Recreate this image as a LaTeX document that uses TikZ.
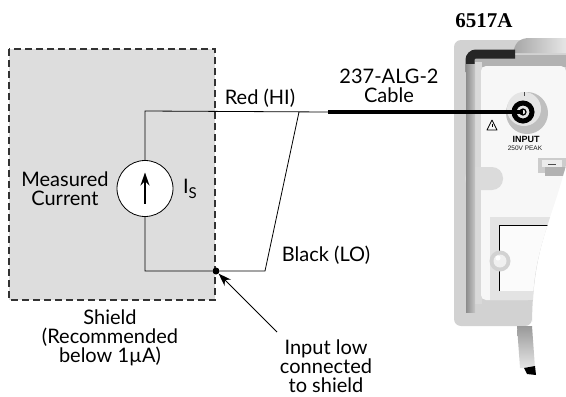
\documentclass[tikz,border=0pt]{standalone}
\usepackage{fontspec}
\setmainfont{Lato}
\newfontfamily\modelfont{Liberation Serif}
\newfontfamily\panelfont{Liberation Sans}
\usetikzlibrary{positioning}
\usetikzlibrary{arrows.meta}
\usetikzlibrary{shapes}
\tikzset{
  wire/.style={line width=0.8pt},
  cable/.style={line width=3.6pt},
  txt/.style={font=\fontsize{20}{19}\selectfont,align=center,inner sep=0pt},
  shieldbox/.style={fill=gray!27,draw=gray!40!black,dash pattern=on 7pt off 4pt,line width=1.1pt},
  source/.style={circle,draw,fill=white,wire,minimum size=56pt,inner sep=0pt},
  junction/.style={circle,fill,inner sep=0pt,minimum size=7pt},
}
\begin{document}
\begin{tikzpicture}[x=1pt,y=-1pt]
\useasboundingbox (0,0) rectangle (566,397);
% shield
\draw[shieldbox] (9,49) rectangle (215,300);
% meter front panel
\fill[gray!35,rounded corners=7] (532,326) -- (454,326) -- (454,40) -- (566,40) -- (566,160)
  .. controls (552,215) and (533,250) .. (532,326) -- cycle;
\shade[left color=gray!70,right color=gray!20] (513,53) .. controls (515,42) and (520,38) .. (530,38) -- (566,38) -- (566,53) -- cycle;
\fill[gray!60] (474,55) rectangle (566,67);
\draw[gray!30!black,line width=9pt,rounded corners=6] (470,72) -- (470,54) -- (515,54);
\fill[gray!30] (475,62) rectangle (482,304);
\fill[gray!6,rounded corners=5] (481,66) -- (566,66) -- (566,165)
  .. controls (552,218) and (534,252) .. (533,300) -- (481,300) -- cycle;
\fill[gray!28,rounded corners=11] (465,167) rectangle (503,190);
\shade[left color=gray!90,right color=gray!45] (466,64) rectangle (475,312);
\begin{scope}
  \clip (481,66) -- (566,66) -- (566,165) .. controls (552,218) and (534,252) .. (533,300) -- (481,300) -- cycle;
  \fill[gray!22] (490,217) rectangle (566,300);
  \fill[gray!3] (499,225) rectangle (566,291);
  \draw[wire] (499,291) -- (499,225) -- (566,225);
  \fill[gray!40] (538,158) rectangle (566,173);
  \fill[gray!60] (545,167) rectangle (566,176);
  \fill[gray!15] (542,160) rectangle (562,167);
  \draw[gray!60!black,line width=1pt] (548,164) -- (556,164);
\end{scope}
% knob
\fill[gray!35] (500,261) circle[radius=10.5pt];
\fill[gray!12] (500,261) circle[radius=6.5pt];
\fill[white] (498,258) circle[radius=2.5pt];
% leg
\shade[top color=gray!80,bottom color=gray!20] (517,326) -- (532,326) -- (535,368) -- (520,368) -- cycle;
\fill[black] (524,368) -- (535,366) -- (536,375) -- (527,374) -- cycle;
% input jack
\fill[gray!50] (527,113) circle[radius=21pt];
\fill[gray!20] (524,109) circle[radius=17pt];
\draw[gray!60!black,line width=0.6pt] (524,92) -- (524,96);
\draw[line width=5pt] (523,112) circle[radius=9pt];
\draw[line width=1.2pt] (523,112) circle[radius=3pt];
\draw[wire,line join=round] (487,130) -- (497,130) -- (492,120) -- cycle;
\draw[line width=1pt] (492,123.5) -- (492,127);
\node[font=\panelfont\fontsize{9}{9}\selectfont\bfseries] (inlbl) at (526,139) {INPUT};
\node[font=\panelfont\fontsize{6.5}{6.5}\selectfont,text=gray!20!black] (pklbl) at (525,148) {250V PEAK};
% circuit
\node[source] (Is) at (145,188.5) {};
\node[junction] (lo) at (216,271) {};
\coordinate (hiTop) at (145,111);
\coordinate (hiEnd) at (328,112);
\coordinate (jack) at (523,112);
\coordinate (loBend) at (265,271);
\coordinate (loJoin) at (299,112);
\draw[wire]
  (Is) -- (hiTop) -- (hiEnd)
  (Is) |- (lo) -- (loBend) -- (loJoin);
\draw[cable] (hiEnd) -- (jack);
\draw[line width=1.4pt,-{Stealth[length=13pt,width=9pt]}] ([yshift=-15pt]Is.center) -- ([yshift=16pt]Is.center);
% labels
\node[txt] (meas) at (65,189) {Measured\\Current};
\node[txt] (cur) at (190,189) {I\raisebox{-5pt}{\fontsize{15}{15}\selectfont S}};
\node[txt] (red) at (260,98) {Red (HI)};
\node[txt] (black) at (326,255) {Black (LO)};
\node[txt] (cbl) at (389,86) {237-ALG-2\\Cable};
\node[font=\fontsize{21}{21}\selectfont\modelfont\bfseries,inner sep=0pt] (model) at (484,21) {6517A};
\node[txt] (shield) at (110,338) {Shield\\(Recommended\\below 1µA)};
\node[txt] (inlow) at (326,366) {Input low\\connected\\to shield};
\draw[line width=0.9pt,-{Stealth[length=13pt,width=9pt]}] (277,332) -- (lo);
\end{tikzpicture}
\end{document}
